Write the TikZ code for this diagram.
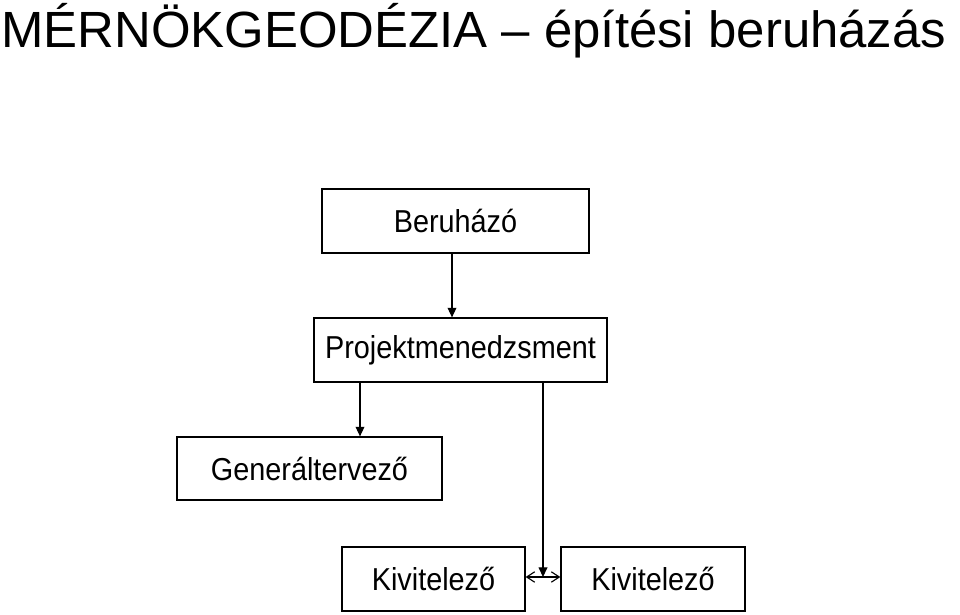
\documentclass[tikz,border=0pt]{standalone}
\usepackage{fontspec}
\setmainfont{Liberation Sans}
\usetikzlibrary{arrows.meta,positioning}
\newcommand{\tall}[1]{\scalebox{1}[1.1]{#1}}

\begin{document}
\begin{tikzpicture}[x=0.025cm,y=-0.025cm,
  box/.style={draw,line width=0.9pt,inner sep=0pt,font=\fontsize{20.5}{24}\selectfont},
  arr/.style={-{Triangle[length=2.4mm,width=2.2mm]},line width=0.8pt},
  both/.style={{Straight Barb[length=2mm,width=2.6mm]}-{Straight Barb[length=2mm,width=2.6mm]},line width=0.8pt}]
  \useasboundingbox (0,0) rectangle (960,615);
  \node[anchor=base west,inner sep=0pt,font=\fontsize{36.2}{40}\selectfont] (title) at (1,48) {MÉRNÖKGEODÉZIA – építési beruházás};

  \node[box,minimum width=6.675cm,minimum height=1.6cm] (beruhazo) at (455.5,221) {\tall{Beruházó}};
  \node[box,minimum width=7.325cm,minimum height=1.6cm] (pm) at (460.5,350) {\tall{Projektmenedzsment}};
  \node[box,minimum width=6.625cm,minimum height=1.575cm] (gt) at (309.5,468.5) {\tall{Generáltervező}};
  \node[box,minimum width=4.575cm,minimum height=1.6cm] (kiv1) at (433.5,579) {\tall{Kivitelező}};
  \node[box,minimum width=4.6cm,minimum height=1.6cm] (kiv2) at (653,579) {\tall{Kivitelező}};
  \coordinate (tip) at (543,577);

  \draw[arr] (beruhazo.south -| 452,0) -- (pm.north -| 452,0);
  \draw[arr] (pm.south -| 360,0) -- (gt.north -| 360,0);
  \draw[arr] (pm.south -| tip) -- (tip);
  \draw[both] (kiv1.east |- tip) -- (kiv2.west |- tip);
\end{tikzpicture}
\end{document}
